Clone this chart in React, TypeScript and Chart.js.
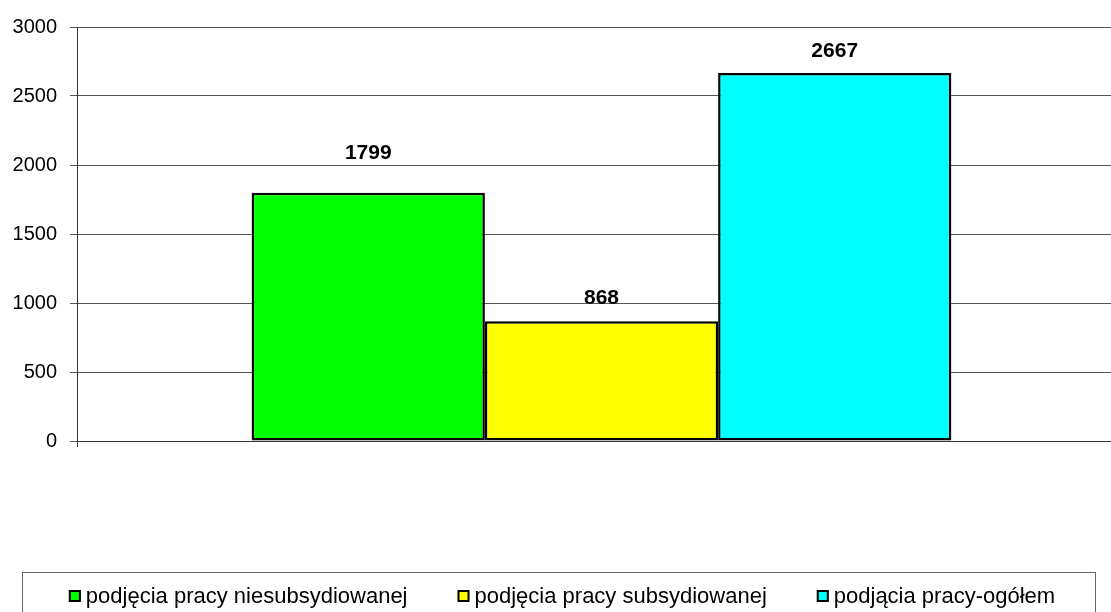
import { useEffect, useRef } from 'react';
import { Chart, registerables } from 'chart.js';

Chart.register(...registerables);

const categories = [''];
const seriesLabels = [
  'podjęcia pracy niesubsydiowanej',
  'podjęcia pracy subsydiowanej',
  'podjącia pracy-ogółem',
];
const niesubsydiowane = [1799];
const subsydiowane = [868];
const ogolem = [2667];
const seriesColors = ['#00FF00', '#FFFF00', '#00FFFF'];
const yMin = 0;
const yMax = 3000;
const yStep = 500;

const FONT = "'Liberation Sans', Arial, sans-serif";

const valueLabels = {
  id: 'valueLabels',
  afterDatasetsDraw(chart: any) {
    const ctx = chart.ctx;
    ctx.save();
    ctx.font = `bold 21px ${FONT}`;
    ctx.fillStyle = '#000';
    ctx.textAlign = 'center';
    ctx.textBaseline = 'alphabetic';
    chart.data.datasets.forEach((ds: any, i: number) => {
      const meta = chart.getDatasetMeta(i);
      meta.data.forEach((bar: any, j: number) => {
        const off = ds.labelOffset ?? 17;
        ctx.fillText(String(ds.data[j]), bar.x, bar.y - off);
      });
    });
    ctx.restore();
  },
};

const boxLegend = {
  id: 'boxLegend',
  afterDraw(chart: any) {
    const ctx = chart.ctx;
    const area = chart.chartArea;
    const top = area.bottom + 131;
    ctx.save();
    ctx.strokeStyle = '#666';
    ctx.lineWidth = 1;
    ctx.strokeRect(22.5, top + 0.5, 1073, 80);
    ctx.font = `22px ${FONT}`;
    const sq = 12;
    const gapText = 5;
    const gapItem = 50;
    const widths = chart.data.datasets.map((d: any) => ctx.measureText(d.label).width);
    const total = widths.reduce((a: number, w: number) => a + sq + gapText + w, 0) + gapItem * (widths.length - 1);
    let x = 562 - total / 2;
    const cy = top + 24;
    chart.data.datasets.forEach((d: any, i: number) => {
      ctx.fillStyle = d.backgroundColor;
      ctx.fillRect(x, cy - sq / 2, sq, sq);
      ctx.strokeStyle = '#000';
      ctx.lineWidth = 2;
      ctx.strokeRect(x + 1, cy - sq / 2 + 1, sq - 2, sq - 2);
      ctx.fillStyle = '#000';
      ctx.textAlign = 'left';
      ctx.textBaseline = 'middle';
      ctx.fillText(d.label, x + sq + gapText, cy + 1);
      x += sq + gapText + widths[i] + gapItem;
    });
    ctx.restore();
  },
};

export default function App() {
  const ref = useRef<HTMLCanvasElement | null>(null);
  useEffect(() => {
    if (!ref.current) return;
    Chart.defaults.font.family = FONT;
    const chart = new Chart(ref.current, {
      type: 'bar',
      data: {
        labels: categories,
        datasets: [
          { label: seriesLabels[0], data: niesubsydiowane, backgroundColor: seriesColors[0], labelOffset: 34 } as any,
          { label: seriesLabels[1], data: subsydiowane, backgroundColor: seriesColors[1], labelOffset: 17 } as any,
          { label: seriesLabels[2], data: ogolem, backgroundColor: seriesColors[2], labelOffset: 16 } as any,
        ].map((d: any) => ({
          ...d,
          borderColor: '#000',
          borderWidth: 2.5,
          borderSkipped: false,
          categoryPercentage: 0.667,
          barPercentage: 1,
        })),
      },
      options: {
        responsive: false,
        animation: false,
        devicePixelRatio: 1,
        layout: { padding: { top: 27, right: 4, left: 0, bottom: 0 } },
        plugins: {
          legend: { display: false },
          tooltip: { enabled: false },
        },
        scales: {
          x: {
            offset: true,
            ticks: { display: false },
            grid: {
              display: true,
              drawOnChartArea: false,
              drawTicks: true,
              tickLength: 6,
              color: '#333',
              offset: true,
            },
            border: { display: true, color: '#333' },
            afterFit: (s: any) => {
              s.height = 171;
            },
          },
          y: {
            min: yMin,
            max: yMax,
            ticks: {
              stepSize: yStep,
              color: '#000',
              padding: 13,
              font: { size: 20, family: FONT },
              callback: (v: any) => String(v),
            },
            grid: {
              color: '#555',
              lineWidth: 1,
              tickLength: 7,
            },
            border: { display: true, color: '#333' },
            afterFit: (s: any) => {
              s.width = 77;
            },
          },
        },
      },
      plugins: [valueLabels, boxLegend],
    });
    return () => chart.destroy();
  }, []);
  return (
    <div
      style={{
        position: 'fixed',
        left: 0,
        top: 0,
        width: 1111,
        height: 612,
        overflow: 'hidden',
        background: '#fff',
      }}
    >
      <canvas ref={ref} width={1130} height={612} style={{ display: 'block' }} />
    </div>
  );
}
